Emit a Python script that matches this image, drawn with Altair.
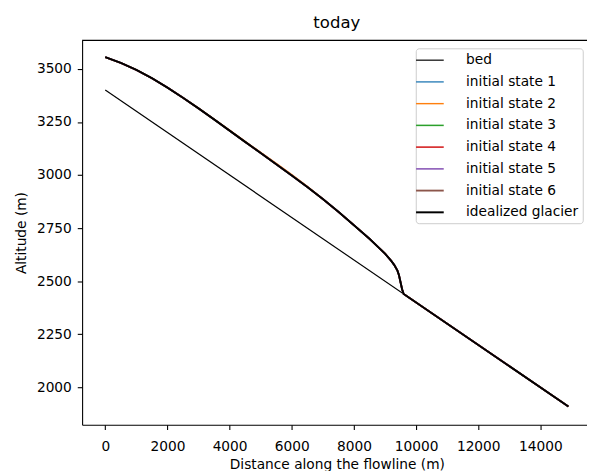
import altair as alt
import pandas as pd

# ---- data ----
series_names = ["bed", "initial state 1", "initial state 2", "initial state 3",
                "initial state 4", "initial state 5", "initial state 6", "idealized glacier"]
series_colors = ["#000000", "#1f77b4", "#ff7f0e", "#2ca02c", "#d62728",
                 "#9467bd", "#8c564b", "#000000"]
series_widths = [1.2, 2.0, 2.0, 2.0, 2.0, 2.0, 2.0, 2.6]

bed_x = [0, 14900]
bed_alt = [3400, 1910]

surf_x = [0, 500, 1000, 1500, 2000, 2500, 3000, 3500, 4000, 4500, 5000, 5500,
          6000, 6500, 7000, 7500, 8000, 8500, 9000, 9200, 9300, 9400, 9450,
          9500, 9550, 9600, 14900]
glacier_alt = [3555, 3528, 3495, 3456, 3412, 3364, 3314, 3262, 3209, 3156, 3104,
               3051, 2998, 2944, 2887, 2827, 2764, 2700, 2630, 2596, 2576, 2550,
               2528, 2495, 2462, 2440, 1910]
state1_alt = [3555, 3528, 3495, 3456, 3412, 3364, 3314, 3262, 3209, 3156, 3104,
              3051, 2998, 2944, 2887, 2827, 2764, 2700, 2630, 2596, 2576, 2550,
              2528, 2495, 2462, 2440, 1910]
state2_alt = [3555, 3528, 3495, 3456, 3412, 3364, 3315, 3264, 3212, 3159, 3107,
              3055, 3002, 2947, 2888, 2827, 2764, 2700, 2630, 2596, 2576, 2550,
              2528, 2495, 2462, 2440, 1910]
state3_alt = [3555, 3528, 3495, 3456, 3412, 3364, 3314, 3262, 3209, 3156, 3104,
              3051, 2998, 2944, 2887, 2827, 2764, 2700, 2630, 2596, 2576, 2550,
              2528, 2495, 2462, 2440, 1910]
state4_alt = [3555, 3528, 3495, 3456, 3412, 3364, 3314, 3262, 3209, 3156, 3104,
              3051, 2998, 2944, 2887, 2827, 2764, 2700, 2630, 2596, 2576, 2550,
              2528, 2495, 2462, 2440, 1910]
state5_alt = [3555, 3528, 3495, 3456, 3412, 3364, 3314, 3262, 3209, 3156, 3104,
              3051, 2998, 2944, 2887, 2827, 2764, 2700, 2630, 2596, 2576, 2550,
              2528, 2495, 2462, 2440, 1910]
state6_alt = [3555, 3528, 3495, 3456, 3412, 3364, 3314, 3262, 3209, 3156, 3104,
              3051, 2998, 2944, 2887, 2827, 2764, 2700, 2630, 2596, 2576, 2550,
              2528, 2495, 2462, 2440, 1910]

x_ticks = [0, 2000, 4000, 6000, 8000, 10000, 12000, 14000]
y_ticks = [2000, 2250, 2500, 2750, 3000, 3250, 3500]
x_domain = [-745, 15645]
y_domain = [1824, 3634]

# ---- tables ----
bed_df = pd.DataFrame({"x": bed_x, "alt": bed_alt, "series": "bed"})
states = [state1_alt, state2_alt, state3_alt, state4_alt, state5_alt, state6_alt]
states_df = pd.concat(
    [pd.DataFrame({"x": surf_x, "alt": s, "series": f"initial state {i + 1}", "k": i})
     for i, s in enumerate(states)], ignore_index=True)
glacier_df = pd.DataFrame({"x": surf_x, "alt": glacier_alt, "series": "idealized glacier"})
# top edge of the axes frame, along the upper limit of the y scale
frame_df = pd.DataFrame({"x": x_domain, "alt": [y_domain[1], y_domain[1]]})

FONT = "DejaVu Sans"
W, H = 515.6, 389

legend_cfg = alt.Legend(title=None, orient="none", legendX=337.7, legendY=8,
                        symbolType="M-2,0H2", symbolSize=196, labelFontSize=13.9,
                        labelFont=FONT, labelColor="black", labelOffset=28.6,
                        symbolOffset=2.3, padding=4, rowPadding=7,
                        strokeColor="#cccccc", fillColor="white", cornerRadius=3,
                        labelLimit=300)

x_scale = alt.Scale(domain=x_domain, nice=False, zero=False)
y_scale = alt.Scale(domain=y_domain, nice=False, zero=False)
x_enc = alt.X("x:Q", scale=x_scale,
              axis=alt.Axis(values=x_ticks, format="d", grid=False,
                            title="Distance along the flowline (m)"))
y_enc = alt.Y("alt:Q", scale=y_scale,
              axis=alt.Axis(values=y_ticks, format="d", grid=False, title="Altitude (m)"))
color_enc = alt.Color("series:N",
                      scale=alt.Scale(domain=series_names, range=series_colors),
                      legend=legend_cfg)
sw_enc = alt.StrokeWidth("series:N",
                         scale=alt.Scale(domain=series_names, range=series_widths),
                         legend=legend_cfg)

bed_layer = alt.Chart(bed_df).mark_line(clip=True).encode(
    x=x_enc, y=y_enc, color=color_enc, strokeWidth=sw_enc)
states_layer = alt.Chart(states_df).mark_line(clip=True).encode(
    x=x_enc, y=y_enc, color=color_enc, strokeWidth=sw_enc, detail="k:N")
glacier_layer = alt.Chart(glacier_df).mark_line(clip=True).encode(
    x=x_enc, y=y_enc, color=color_enc, strokeWidth=sw_enc)
frame_layer = alt.Chart(frame_df).mark_line(color="black", strokeWidth=1.3).encode(
    x=x_enc, y=y_enc)

chart = alt.layer(bed_layer, states_layer, glacier_layer, frame_layer).properties(
    width=W, height=H,
    padding={"left": 75, "top": 30, "right": -4.6, "bottom": 44},
    autosize=alt.AutoSizeParams(type="none"),
    title=alt.TitleParams("today", fontSize=16.7, font=FONT, fontWeight="normal",
                          color="black", anchor="middle", frame="group",
                          baseline="alphabetic", offset=-6.3),
).configure_view(stroke=None).configure_axis(
    domainColor="black", domainWidth=1.1, tickColor="black", tickWidth=1.1,
    tickSize=4.9, labelFontSize=13.9, labelFont=FONT, labelColor="black",
    titleFontSize=13.9, titleFont=FONT, titleFontWeight="normal", titleColor="black",
).configure_axisX(labelPadding=10, titlePadding=4.5).configure_axisY(
    labelPadding=6, titlePadding=8)

chart.save("out.html", embed_options={"renderer": "svg", "actions": False})
